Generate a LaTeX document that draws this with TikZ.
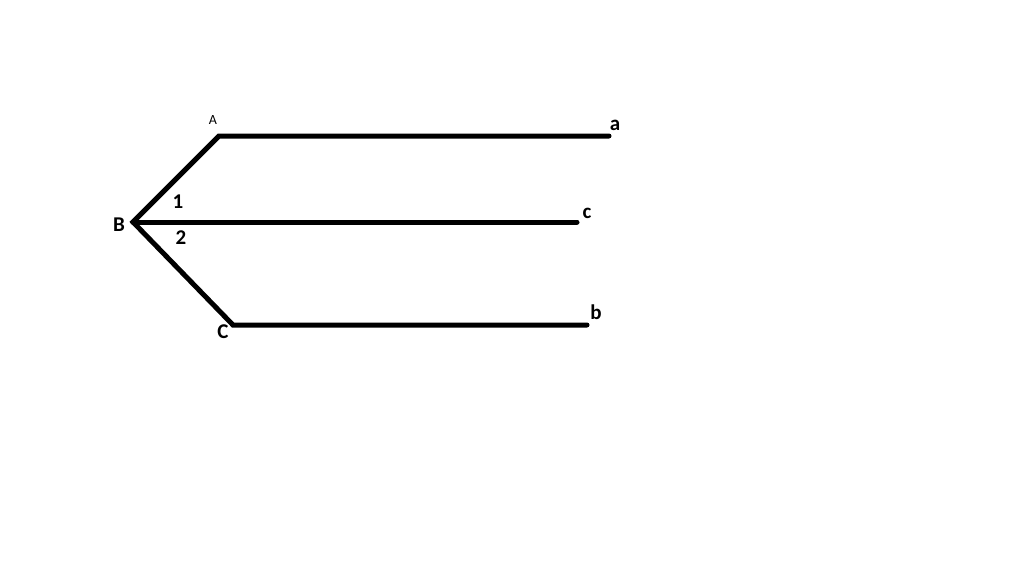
\documentclass[tikz,border=0pt]{standalone}
\usepackage{fontspec}
\setmainfont{Carlito}
\begin{document}
\begin{tikzpicture}[x=1pt,y=-1pt,
  seg/.style={line width=5pt,line cap=round,line join=miter},
  lbl/.style={font=\fontsize{21}{21}\selectfont\bfseries,inner sep=0pt},
  smalllbl/.style={font=\fontsize{14}{14}\selectfont,inner sep=0pt}]
\useasboundingbox[fill=white] (0,0) rectangle (1024,575);
\coordinate (A) at (219,136);
\coordinate (a) at (609,136);
\coordinate (B) at (133,222);
\coordinate (c) at (577,222);
\coordinate (C) at (233,325);
\coordinate (b) at (587,325);
\draw[seg] (a) -- (A) -- (B) -- (C) -- (b);
\draw[seg] (B) -- (c);
\node[smalllbl] (lA) at (213,120) {A};
\node[lbl] (la) at (615,125) {a};
\node[lbl] (lB) at (119,225) {B};
\node[lbl] (l1) at (178,202) {1};
\node[lbl] (l2) at (181,238) {2};
\node[lbl] (lc) at (587,213) {c};
\node[lbl] (lb) at (596,312) {b};
\node[lbl] (lC) at (223,332) {C};
\end{tikzpicture}
\end{document}
